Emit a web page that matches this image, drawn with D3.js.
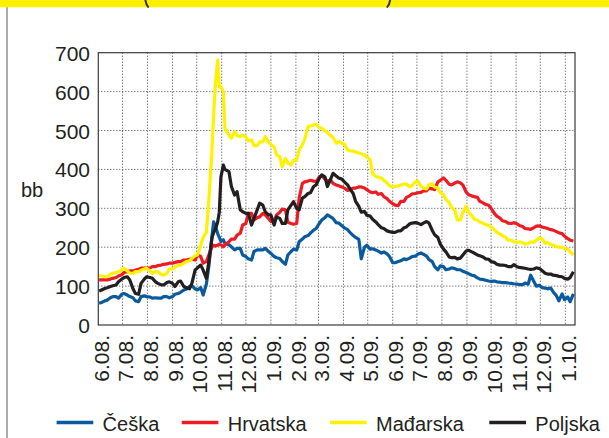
<!DOCTYPE html>
<html><head><meta charset="utf-8">
<script src="https://cdn.jsdelivr.net/npm/d3@7"></script>
<style>
body{margin:0;background:#fff}
svg{display:block}
text{font-family:"Liberation Sans",Arial,sans-serif;fill:#231f20}
</style>
</head><body>
<svg id="c" width="609" height="438"></svg>
<script>
const dates = [
 "2008-06-02","2008-06-05","2008-06-09","2008-06-12","2008-06-16","2008-06-19","2008-06-23","2008-06-26","2008-06-30","2008-07-03",
 "2008-07-07","2008-07-10","2008-07-14","2008-07-17","2008-07-21","2008-07-24","2008-07-28","2008-07-31","2008-08-04","2008-08-07",
 "2008-08-11","2008-08-14","2008-08-18","2008-08-21","2008-08-25","2008-08-28","2008-09-01","2008-09-04","2008-09-08","2008-09-11",
 "2008-09-15","2008-09-18","2008-09-22","2008-09-25","2008-09-29","2008-10-02","2008-10-06","2008-10-09",
 "2008-10-13","2008-10-16","2008-10-20","2008-10-22","2008-10-24","2008-10-27","2008-10-29","2008-10-31","2008-11-03","2008-11-05",
 "2008-11-10","2008-11-13","2008-11-17","2008-11-20","2008-11-24","2008-11-27","2008-12-01","2008-12-04","2008-12-08","2008-12-11",
 "2008-12-15","2008-12-18","2008-12-22","2008-12-25","2008-12-29","2009-01-01","2009-01-05","2009-01-08","2009-01-12","2009-01-15",
 "2009-01-19","2009-01-22","2009-01-26","2009-01-29","2009-02-02","2009-02-05","2009-02-09","2009-02-12","2009-02-16","2009-02-19",
 "2009-02-23","2009-02-26","2009-03-02","2009-03-05","2009-03-09","2009-03-12","2009-03-16","2009-03-19","2009-03-23","2009-03-26",
 "2009-03-30","2009-04-02","2009-04-06","2009-04-09","2009-04-13","2009-04-16","2009-04-20","2009-04-23","2009-04-27","2009-04-30",
 "2009-05-04","2009-05-07","2009-05-11","2009-05-14","2009-05-18","2009-05-21","2009-05-25","2009-05-28","2009-06-01","2009-06-04",
 "2009-06-08","2009-06-11","2009-06-15","2009-06-18","2009-06-22","2009-06-25","2009-06-29","2009-07-02","2009-07-06","2009-07-09",
 "2009-07-13","2009-07-16","2009-07-20","2009-07-23","2009-07-27","2009-07-30","2009-08-03","2009-08-06","2009-08-10","2009-08-13",
 "2009-08-17","2009-08-20","2009-08-24","2009-08-27","2009-08-31","2009-09-03","2009-09-07","2009-09-10","2009-09-14","2009-09-17",
 "2009-09-21","2009-09-24","2009-09-28","2009-10-01","2009-10-05","2009-10-08","2009-10-12","2009-10-15","2009-10-19","2009-10-22",
 "2009-10-26","2009-10-29","2009-11-02","2009-11-05","2009-11-09","2009-11-12","2009-11-16","2009-11-19","2009-11-23","2009-11-26",
 "2009-11-30","2009-12-03","2009-12-07","2009-12-10","2009-12-14","2009-12-17","2009-12-21","2009-12-24","2009-12-28","2009-12-31",
 "2010-01-04","2010-01-07","2010-01-11"];

const ceska = [
 56,58,62,64,70,73,73,69,79,81, 77,73,70,62,60,73,75,73,72,69, 70,69,69,73,73,70,73,79,81,84, 90,92,99,101,93,90,96,77,
 105,150,230,265,255,235,225,215,219,210,
 206,201,193,197,197,180,176,170,167,189,
 193,193,193,197,189,184,176,173,171,163,
 156,180,189,195,193,214,221,227,230,236,
 244,248,261,270,276,283,278,274,263,262,
 255,250,245,238,230,225,220,170,200,205,
 195,196,193,190,185,188,183,176,160,160,
 163,165,170,168,172,176,177,182,185,182,
 177,168,163,150,142,152,150,142,144,147,
 145,142,142,138,135,132,128,127,121,118,
 117,115,113,112,113,111,110,109,109,108,
 107,106,105,104,104,108,105,128,112,100,
 102,96,95,93,95,85,75,62,80,65,
 72,60,80];

const hrvatska = [
 116,116,116,116,118,120,122,126,129,135, 137,139,139,141,143,146,146,146,147,150, 150,153,154,156,157,159,159,161,163,163, 167,167,169,170,167,180,176,159,
 163,180,201,205,203,205,208,206,201,206,
 214,221,221,231,236,257,261,287,287,270,
 276,278,287,283,274,266,267,283,290,298,
 296,264,261,259,261,326,364,368,370,372,
 370,368,381,384,375,370,373,364,360,358,
 355,352,346,348,352,352,355,355,352,348,
 342,340,342,336,338,330,325,318,312,308,
 307,318,318,328,332,337,338,340,341,345,
 345,352,350,348,368,372,378,372,362,360,
 365,368,365,360,342,335,332,330,328,318,
 314,310,308,300,287,280,275,268,266,262,
 261,263,260,256,253,248,247,246,250,254,
 255,252,250,248,245,244,240,237,235,228,
 222,218,216];

const madarska = [
 127,126,124,124,130,133,135,137,141,146, 139,133,133,137,137,141,144,146,139,133, 137,137,130,128,133,144,144,150,153,154, 159,163,165,171,178,180,205,225,
 238,320,450,540,615,681,612,612,600,505,
 488,480,497,487,484,488,484,473,476,461,
 461,471,471,484,471,464,458,437,433,407,
 428,416,411,424,424,450,463,478,510,512,
 514,516,507,506,499,495,487,482,467,472,
 467,465,450,448,447,445,442,440,437,432,
 425,390,382,380,378,372,365,358,355,356,
 358,360,362,362,355,358,368,370,357,352,
 350,360,363,355,352,340,335,322,315,302,
 295,270,270,290,305,290,282,272,270,265,
 262,258,256,252,245,238,234,230,225,218,
 218,214,212,214,212,208,210,214,212,218,
 224,222,210,212,207,205,202,200,200,196,
 195,188,180];

const poljska = [
 87,90,94,96,99,101,103,111,118,122, 124,116,93,81,79,107,118,124,122,120, 111,107,103,103,109,111,107,99,111,113, 99,96,93,107,141,147,154,141,
 120,162,225,238,245,265,290,380,411,400,
 394,356,334,343,296,291,287,287,257,274,
 296,313,308,291,283,283,257,278,274,261,
 261,296,308,317,300,296,326,330,338,340,
 356,360,377,386,381,356,375,390,383,378,
 375,368,360,350,338,318,305,290,292,282,
 280,272,265,258,250,248,242,240,238,238,
 242,242,250,252,260,262,263,262,258,262,
 266,262,243,232,225,208,195,188,175,173,
 174,170,172,180,190,192,188,185,180,178,
 175,170,169,163,161,156,154,154,153,150,
 150,155,150,148,147,146,144,143,144,147,
 145,140,133,131,131,128,127,125,124,120,
 118,122,137];

const monthLabels = ["6.08.","7.08.","8.08.","9.08.","10.08.","11.08.","12.08.","1.09.","2.09.","3.09.","4.09.","5.09.","6.09.","7.09.","8.09.","9.09.","10.09.","11.09.","12.09.","1.10."];
const yTicks = [0,100,200,300,400,500,600,700];
const seriesNames = ["Češka","Hrvatska","Mađarska","Poljska"];
const seriesColors = ["#0a5a9e","#ed1c24","#fff200","#231f20"];
const seriesValues = [ceska, hrvatska, madarska, poljska];

const parse = d3.timeParse("%Y-%m-%d");
const dts = dates.map(parse);
const monthDates = monthLabels.map(s => { const p = s.split("."); return new Date(2000 + +p[1], +p[0] - 1, 1); });

const svg = d3.select("#c");
const L = 98.3, R = 575, T = 52.7, B = 325;
const x = d3.scaleTime().domain([new Date(2008,5,1), new Date(2010,0,13)]).range([L, R]);
const y = d3.scaleLinear().domain([0, 700]).range([B, T]);

// top band
svg.append("rect").attr("x",0).attr("y",0).attr("width",609).attr("height",7.3).attr("fill","#fff000");
svg.append("path").attr("d","M145.3,0 Q146.2,5 148.6,7.6").attr("fill","none").attr("stroke","#333").attr("stroke-width",2);
svg.append("path").attr("d","M390.2,0 Q389.3,5 386.9,7.6").attr("fill","none").attr("stroke","#333").attr("stroke-width",2);
svg.append("line").attr("x1",7).attr("x2",7).attr("y1",7.3).attr("y2",438).attr("stroke","#8a8a8a").attr("stroke-width",1.4);

// grid
const grid = svg.append("g").attr("stroke","#444").attr("stroke-width",1).attr("stroke-dasharray","1,2");
grid.selectAll("line.h").data(yTicks.filter(v => v > 0 && v < 700)).join("line")
  .attr("x1", L).attr("x2", R).attr("y1", d => y(d)).attr("y2", d => y(d));
grid.selectAll("line.v").data(monthDates.slice(1)).join("line")
  .attr("x1", d => x(d)).attr("x2", d => x(d)).attr("y1", T).attr("y2", B);

// series
const line = d3.line().x((d,i) => x(dts[i])).y(d => y(d));
seriesValues.forEach((vals, si) => {
  svg.append("path").datum(vals).attr("d", line)
    .attr("fill","none").attr("stroke", seriesColors[si]).attr("stroke-width",3.2)
    .attr("stroke-linejoin","round");
});

// frame
svg.append("rect").attr("x",L).attr("y",T).attr("width",R-L).attr("height",B-T)
  .attr("fill","none").attr("stroke","#3a3a3a").attr("stroke-width",1.2);

// y axis
const ya = svg.append("g").attr("transform","translate(90,0)")
  .call(d3.axisLeft(y).tickValues(yTicks).tickSize(0).tickPadding(0).tickFormat(d3.format("d")));
ya.select(".domain").remove();
ya.selectAll("text").attr("font-size",21).attr("font-family","Liberation Sans, Arial, sans-serif").attr("fill","#231f20").attr("dy","0.36em");

// x axis
const xa = svg.append("g").attr("transform","translate(0,335)")
  .call(d3.axisBottom(x).tickValues(monthDates).tickSize(0).tickPadding(0).tickFormat((d,i) => monthLabels[i]));
xa.select(".domain").remove();
xa.selectAll("text").attr("font-size",21).attr("font-family","Liberation Sans, Arial, sans-serif").attr("fill","#231f20")
  .attr("transform","rotate(-90)").attr("text-anchor","end").attr("x",0).attr("y",10).attr("dy",0);

// y unit
svg.append("text").attr("x",21).attr("y",197).attr("font-size",20).text("bb");

// legend
const legX = [56.6, 181.7, 330, 489.3];
const lg = svg.append("g");
seriesNames.forEach((n, i) => {
  lg.append("line").attr("x1", legX[i]).attr("x2", legX[i] + 36.7).attr("y1", 422.5).attr("y2", 422.5)
    .attr("stroke", seriesColors[i]).attr("stroke-width", 3.6);
  lg.append("text").attr("x", legX[i] + 46).attr("y", 430.7).attr("font-size", 20).text(n);
});
</script>
</body></html>
